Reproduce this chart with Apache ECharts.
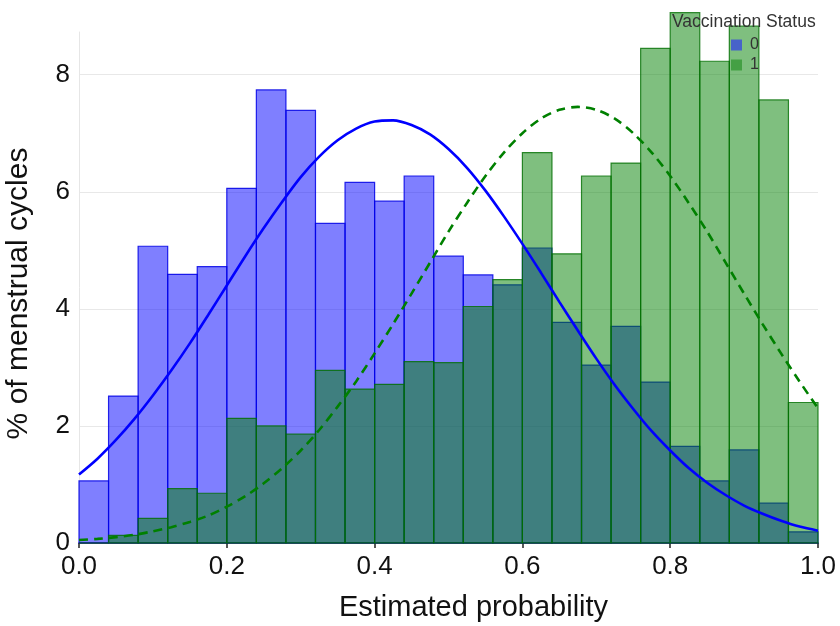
<!DOCTYPE html>
<html>
<head>
<meta charset="utf-8">
<script src="https://cdn.jsdelivr.net/npm/echarts@6/dist/echarts.min.js"></script>
<style>html,body{margin:0;padding:0;background:#fff}#c{width:840px;height:626px}</style>
</head>
<body>
<div id="c"></div>
<script>
// Histogram bins (width 0.04) — left edges
var binStart = [0,0.04,0.08,0.12,0.16,0.20,0.24,0.28,0.32,0.36,0.40,0.44,0.48,0.52,0.56,0.60,0.64,0.68,0.72,0.76,0.80,0.84,0.88,0.92,0.96];
var binWidth = 0.04;
// % of menstrual cycles, Vaccination Status 0
var unvaccinated = [1.06,2.51,5.07,4.59,4.72,6.06,7.74,7.39,5.46,6.16,5.84,6.27,4.90,4.58,4.41,5.04,3.77,3.04,3.70,2.75,1.65,1.06,1.59,0.68,0.19];
// % of menstrual cycles, Vaccination Status 1
var vaccinated = [0.00,0.13,0.42,0.93,0.85,2.13,2.00,1.86,2.95,2.63,2.71,3.10,3.08,4.04,4.50,6.67,4.94,6.27,6.49,8.45,9.06,8.23,8.83,7.57,2.40];
// Fitted normal density curves
var curveX = [0,0.025,0.05,0.075,0.10,0.125,0.15,0.175,0.20,0.225,0.25,0.275,0.30,0.325,0.35,0.375,0.40,0.425,0.45,0.475,0.50,0.525,0.55,0.575,0.60,0.625,0.65,0.675,0.70,0.725,0.75,0.775,0.80,0.825,0.85,0.875,0.90,0.925,0.95,0.975,1.00];
var curve0 = [1.17,1.44,1.76,2.12,2.52,2.95,3.41,3.90,4.40,4.90,5.38,5.83,6.25,6.60,6.88,7.08,7.20,7.22,7.14,6.98,6.73,6.41,6.02,5.58,5.11,4.62,4.12,3.63,3.15,2.70,2.29,1.91,1.58,1.28,1.03,0.82,0.64,0.50,0.38,0.28,0.21];
var curve1 = [0.05,0.07,0.10,0.14,0.20,0.27,0.36,0.47,0.62,0.80,1.02,1.28,1.58,1.93,2.33,2.76,3.24,3.74,4.26,4.79,5.32,5.81,6.27,6.67,7.00,7.25,7.40,7.45,7.40,7.25,7.00,6.67,6.27,5.81,5.32,4.79,4.26,3.74,3.24,2.76,2.30];
var xTicks = [0,0.2,0.4,0.6,0.8,1.0];
var yTicks = [0,2,4,6,8];

var FONT = "'Liberation Sans', Arial, sans-serif";

function toBars(vals){
  return binStart.map(function(s,i){ return [s, s+binWidth, vals[i]]; });
}
function rectItem(fill, stroke){
  return function(params, api){
    var p0 = api.coord([api.value(0), 0]);
    var p1 = api.coord([api.value(1), api.value(2)]);
    return {
      type:'rect',
      shape:{x:p0[0], y:p1[1], width:p1[0]-p0[0], height:p0[1]-p1[1]},
      style:{fill:fill, stroke:stroke, lineWidth:1.2}
    };
  };
}

var chart = echarts.init(document.getElementById('c'), null, {renderer:'canvas'});
chart.setOption({
  animation:false,
  backgroundColor:'#ffffff',
  textStyle:{fontFamily:FONT},
  grid:{left:79, right:22, top:32, bottom:83, containLabel:false, outerBoundsMode:'none'},
  xAxis:{
    type:'value', min:0, max:1, interval:0.2,
    name:'Estimated probability', nameLocation:'middle', nameGap:50,
    nameTextStyle:{fontSize:29, color:'#111', fontFamily:FONT, padding:[0,0,0,50]},
    axisLine:{show:true, onZero:false, lineStyle:{color:'#222', width:1.5}},
    axisTick:{show:true, length:5, lineStyle:{color:'#222', width:1.5}},
    axisLabel:{fontSize:26, color:'#111', margin:11, fontFamily:FONT, hideOverlap:false,
      formatter:function(v){ return xTicks.indexOf(Math.round(v*10)/10) >= 0 ? v.toFixed(1) : ''; }},
    splitLine:{show:false}
  },
  yAxis:{
    type:'value', min:0, max:8.73, interval:2, offset:5,
    name:'% of menstrual cycles', nameLocation:'middle', nameGap:40,
    nameTextStyle:{fontSize:30, color:'#111', fontFamily:FONT, padding:[0,12,0,0]},
    axisLine:{show:true, lineStyle:{color:'#e6e6e6', width:1}},
    axisTick:{show:false},
    axisLabel:{fontSize:26, color:'#111', margin:4, showMaxLabel:false, fontFamily:FONT, padding:[5,0,0,0],
      formatter:function(v){ return yTicks.indexOf(v) >= 0 ? String(v) : ''; }},
    splitLine:{show:true, showMinLine:false, showMaxLine:false, lineStyle:{color:'#e8e8e8', width:1.2}}
  },
  legend:{
    orient:'vertical', left:731, top:37, padding:0, itemWidth:11, itemHeight:11, itemGap:4,
    icon:'rect', itemStyle:{borderWidth:0},
    textStyle:{fontSize:16, color:'#333', fontFamily:FONT, padding:[0,0,0,3]},
    data:[{name:'0', itemStyle:{color:'#4763c9'}},{name:'1', itemStyle:{color:'#44a044'}}]
  },
  graphic:[{
    type:'text', left:672, top:13, z:100,
    style:{text:'Vaccination Status', fill:'#333', font:"17.5px 'Liberation Sans', Arial, sans-serif"}
  }],
  series:[
    {name:'0', type:'custom', renderItem:rectItem('rgba(0,0,255,0.5)','rgba(0,0,230,0.85)'),
      data:toBars(unvaccinated), encode:{x:[0,1], y:2}, clip:false, z:1},
    {name:'1', type:'custom', renderItem:rectItem('rgba(0,128,0,0.5)','rgba(0,110,0,0.8)'),
      data:toBars(vaccinated), encode:{x:[0,1], y:2}, clip:false, z:2},
    {name:'fit0', type:'line', data:curveX.map(function(x,i){return [x,curve0[i]];}),
      smooth:0.3, showSymbol:false, z:3, lineStyle:{color:'#0000ff', width:2.6}},
    {name:'fit1', type:'line', data:curveX.map(function(x,i){return [x,curve1[i]];}),
      smooth:0.3, showSymbol:false, z:4, lineStyle:{color:'#008000', width:2.6, type:[9,6]}}
  ]
});
</script>
</body>
</html>
